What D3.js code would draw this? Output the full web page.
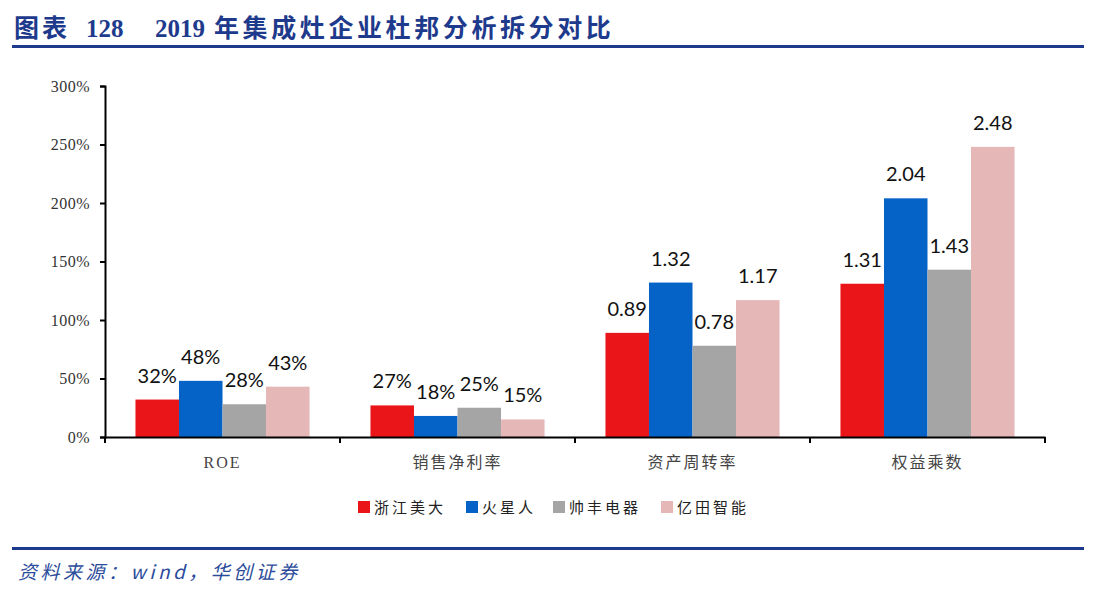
<!DOCTYPE html>
<html>
<head>
<meta charset="utf-8">
<script src="https://cdn.jsdelivr.net/npm/d3@7"></script>
<style>
  body { margin: 0; background: #fff; }
  svg { display: block; }
</style>
</head>
<body>
<svg id="chart"></svg>
<script>
// data
const categories = ['ROE', '销售净利率', '资产周转率', '权益乘数'];
const seriesNames = ['浙江美大', '火星人', '帅丰电器', '亿田智能'];
const meida = [0.32, 0.27, 0.89, 1.31];
const huoxingren = [0.48, 0.18, 1.32, 2.04];
const shuaifeng = [0.28, 0.25, 0.78, 1.43];
const yitian = [0.43, 0.15, 1.17, 2.48];
const percentCats = ['ROE', '销售净利率'];
const yTicks = [0, 0.5, 1, 1.5, 2, 2.5, 3];

const seriesValues = [meida, huoxingren, shuaifeng, yitian];
const colors = ['#ea1519', '#0563c8', '#a5a5a5', '#e6b7b7'];

const width = 1094, height = 596;
const margin = { top: 86, left: 105, bottom: 159, right: 49 };

const svg = d3.select('#chart').attr('width', width).attr('height', height);

// title + rules
const title = svg.append('text')
  .attr('y', 37)
  .attr('fill', '#1e3a8c')
  .style('font-weight', 'bold')
  .style('font-size', '25px')
  .style('font-family', '"Liberation Serif", "Noto Sans CJK SC", serif');
title.append('tspan').attr('x', 14).style('letter-spacing', '3px').text('图表');
title.append('tspan').attr('x', 86).text('128');
title.append('tspan').attr('x', 155).text('2019');
title.append('tspan').attr('x', 214).style('letter-spacing', '3.6px').text('年集成灶企业杜邦分析拆分对比');

svg.append('rect').attr('x', 12).attr('y', 45).attr('width', 1072).attr('height', 3).attr('fill', '#1e3a8c');
svg.append('rect').attr('x', 12).attr('y', 547).attr('width', 1072).attr('height', 3).attr('fill', '#1e3a8c');

svg.append('text')
  .attr('x', 18).attr('y', 579)
  .attr('fill', '#2b4c9b')
  .style('font-style', 'italic')
  .style('font-size', '19px')
  .style('font-family', '"Noto Sans CJK SC", sans-serif')
  .style('letter-spacing', '3.5px')
  .text('资料来源：wind，华创证券');

// scales
const x0 = d3.scaleBand()
  .domain(categories)
  .range([margin.left, width - margin.right]);

const x1 = d3.scaleBand()
  .domain(seriesNames)
  .range([0, x0.bandwidth()])
  .paddingOuter(0.7);

const y = d3.scaleLinear()
  .domain([0, 3])
  .range([height - margin.bottom, margin.top]);

const rows = [];
categories.forEach((c, ci) => {
  seriesNames.forEach((s, si) => {
    rows.push({ cat: c, series: s, value: seriesValues[si][ci], color: colors[si] });
  });
});

const g = svg.append('g');

g.selectAll('rect.bar').data(rows).enter().append('rect')
  .attr('class', 'bar')
  .attr('x', d => x0(d.cat) + x1(d.series))
  .attr('y', d => y(d.value))
  .attr('width', x1.bandwidth())
  .attr('height', d => y(0) - y(d.value))
  .attr('fill', d => d.color);

g.selectAll('text.lbl').data(rows).enter().append('text')
  .attr('class', 'lbl')
  .attr('x', d => x0(d.cat) + x1(d.series) + x1.bandwidth() / 2)
  .attr('y', d => y(d.value) - 17)
  .attr('text-anchor', 'middle')
  .attr('fill', '#111')
  .style('font-size', '20px')
  .style('font-family', 'Lato, "Open Sans", sans-serif')
  .text(d => percentCats.includes(d.cat) ? Math.round(d.value * 100) + '%' : d3.format('.2f')(d.value));

// y axis
const yAxis = g.append('g')
  .attr('transform', `translate(${margin.left},0)`)
  .call(d3.axisLeft(y).tickValues(yTicks).tickSize(5).tickPadding(10)
    .tickFormat(d => Math.round(d * 100) + '%'));
yAxis.select('.domain').attr('stroke', '#000').attr('stroke-width', 2);
yAxis.selectAll('.tick line').attr('stroke', '#000').attr('stroke-width', 2);
yAxis.selectAll('.tick text')
  .attr('fill', '#333')
  .style('font-size', '16px')
  .style('letter-spacing', '0.5px')
  .style('font-family', '"Liberation Serif", serif');

// x axis
const xAxis = g.append('g')
  .attr('transform', `translate(0,${y(0)})`)
  .call(d3.axisBottom(x0).tickSize(0).tickPadding(20));
xAxis.select('.domain').attr('stroke', '#000').attr('stroke-width', 2);
xAxis.selectAll('.tick text')
  .attr('fill', '#444')
  .style('font-size', '16px')
  .style('letter-spacing', '2px')
  .style('font-family', '"Liberation Serif", "Noto Sans CJK SC", serif');

// boundary ticks between categories
const bounds = [x0.range()[0]].concat(categories.map(c => x0(c) + x0.bandwidth()));
g.selectAll('line.bt').data(bounds).enter().append('line')
  .attr('class', 'bt')
  .attr('x1', d => d).attr('x2', d => d)
  .attr('y1', y(0)).attr('y2', y(0) + 6)
  .attr('stroke', '#000').attr('stroke-width', 2);

// legend
const legendX = [358, 466, 553, 661];
const legend = svg.append('g');
seriesNames.forEach((s, i) => {
  legend.append('rect')
    .attr('x', legendX[i]).attr('y', 501)
    .attr('width', 12).attr('height', 12)
    .attr('fill', colors[i]);
  legend.append('text')
    .attr('x', legendX[i] + 16).attr('y', 513)
    .attr('fill', '#222')
    .style('font-size', '15px')
    .style('letter-spacing', '3px')
    .style('font-family', '"Noto Sans CJK SC", sans-serif')
    .text(s);
});
</script>
</body>
</html>
